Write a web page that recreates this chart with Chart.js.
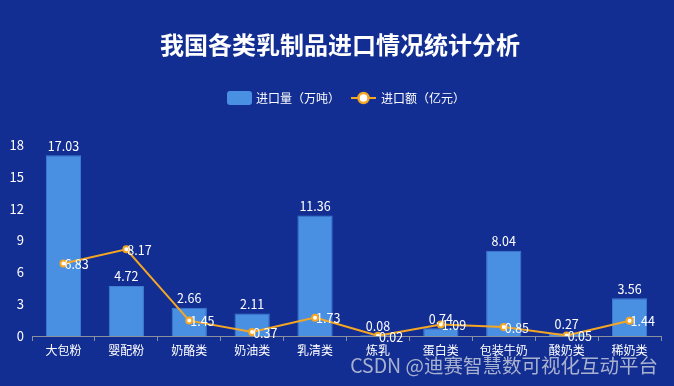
<!DOCTYPE html>
<html lang="zh">
<head>
<meta charset="UTF-8">
<title>我国各类乳制品进口情况统计分析</title>
<style>
  html, body { margin: 0; padding: 0; background: #132e92; }
  #wrap { width: 674px; height: 386px; }
</style>
</head>
<body>
<div id="wrap"><canvas id="chart" width="674" height="386"></canvas></div>
<script src="https://cdn.jsdelivr.net/npm/chart.js"></script>
<script>
const categories = ['大包粉', '婴配粉', '奶酪类', '奶油类', '乳清类', '炼乳', '蛋白类', '包装牛奶', '酸奶类', '稀奶类'];
const volume = [17.03, 4.72, 2.66, 2.11, 11.36, 0.08, 0.74, 8.04, 0.27, 3.56];   // 万吨
const amount = [6.83, 8.17, 1.45, 0.37, 1.73, 0.02, 1.09, 0.85, 0.05, 1.44];      // 亿元
const yTicks = [0, 3, 6, 9, 12, 15, 18];

const FONT = '"Noto Sans CJK SC", "Noto Sans", sans-serif';
const BAR = '#4a90e2';
const LINE = '#f5a623';

// titles, legend, value labels and watermark
const decor = {
  id: 'decor',
  afterDatasetsDraw(chart) {
    const ctx = chart.ctx;
    ctx.save();
    ctx.fillStyle = '#fff';
    ctx.textBaseline = 'middle';

    // title
    ctx.font = 'bold 24px ' + FONT;
    ctx.textAlign = 'center';
    ctx.fillText('我国各类乳制品进口情况统计分析', 340, 45);

    // legend
    ctx.font = '12px ' + FONT;
    ctx.textAlign = 'left';
    ctx.fillStyle = BAR;
    ctx.beginPath();
    ctx.roundRect(227, 91, 25, 14, 3);
    ctx.fill();
    ctx.fillStyle = '#fff';
    ctx.fillText('进口量（万吨）', 256, 98);
    ctx.strokeStyle = LINE;
    ctx.lineWidth = 2;
    ctx.beginPath();
    ctx.moveTo(351, 98); ctx.lineTo(376, 98); ctx.stroke();
    ctx.beginPath();
    ctx.arc(363.5, 98, 5, 0, Math.PI * 2);
    ctx.fillStyle = '#fff'; ctx.fill();
    ctx.lineWidth = 2.5; ctx.stroke();
    ctx.fillStyle = '#fff';
    ctx.fillText('进口额（亿元）', 381, 98);

    // bar labels
    ctx.font = '12.5px ' + FONT;
    ctx.textAlign = 'center';
    ctx.textBaseline = 'bottom';
    chart.getDatasetMeta(0).data.forEach((el, i) => {
      ctx.fillText(volume[i].toFixed(2), el.x, el.y - 3);
    });

    // line labels
    ctx.textAlign = 'left';
    ctx.textBaseline = 'middle';
    chart.getDatasetMeta(1).data.forEach((el, i) => {
      ctx.fillText(amount[i].toFixed(2), el.x + 1, el.y + 1);
    });

    // watermark
    ctx.font = '19.5px ' + FONT;
    ctx.fillStyle = 'rgba(205,210,222,0.8)';
    ctx.textAlign = 'right';
    ctx.fillText('CSDN @迪赛智慧数可视化互动平台', 658, 366);
    ctx.restore();
  }
};

new Chart(document.getElementById('chart'), {
  data: {
    labels: categories,
    datasets: [
      {
        type: 'bar',
        label: '进口量（万吨）',
        data: volume,
        backgroundColor: BAR,
        borderColor: '#3f7fd0',
        borderWidth: 1,
        categoryPercentage: 1,
        barPercentage: 0.56,
        order: 2
      },
      {
        type: 'line',
        label: '进口额（亿元）',
        data: amount,
        borderColor: LINE,
        borderWidth: 2,
        pointRadius: 3,
        pointBorderWidth: 2,
        pointBackgroundColor: '#fff',
        pointBorderColor: LINE,
        tension: 0,
        order: 1
      }
    ]
  },
  options: {
    responsive: false,
    animation: false,
    layout: { padding: { top: 145, right: 13, left: 0, bottom: 0 } },
    plugins: {
      legend: { display: false },
      title: { display: false },
      tooltip: { enabled: false }
    },
    scales: {
      x: {
        offset: true,
        grid: { offset: true, display: true, drawOnChartArea: false, color: '#8a8f9c', tickLength: 5 },
        border: { display: true, color: '#8a8f9c', width: 1 },
        ticks: { color: '#fff', font: { size: 12, family: FONT }, padding: 2, maxRotation: 0, autoSkip: false },
        afterFit(scale) { scale.height = 50; }
      },
      y: {
        min: 0,
        max: 18,
        afterBuildTicks(scale) { scale.ticks = yTicks.map(v => ({ value: v })); },
        grid: { display: false, drawTicks: false },
        border: { display: false },
        ticks: { color: '#fff', font: { size: 13, family: FONT }, padding: 8 },
        afterFit(scale) { scale.width = 32; }
      }
    }
  },
  plugins: [decor]
});
</script>
</body>
</html>
